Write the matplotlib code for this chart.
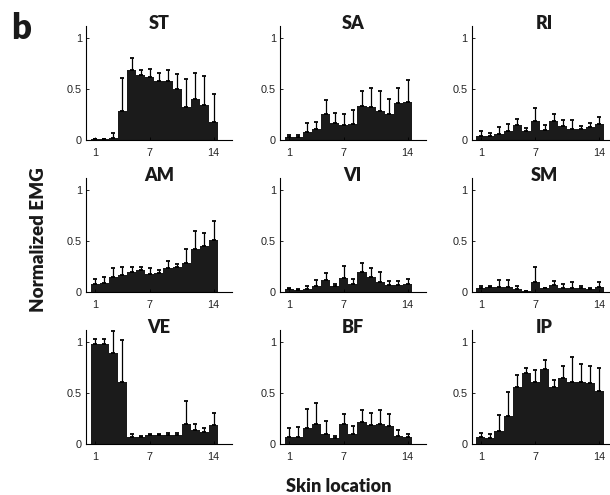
import numpy as np
import matplotlib
matplotlib.use("Agg")
import matplotlib.pyplot as plt

# skin locations along the thigh
locations = np.arange(1, 15)

# mean normalized EMG and SD, one pair per muscle
st_mean = [0.005, 0.005, 0.02, 0.28, 0.69, 0.64, 0.62, 0.575, 0.58, 0.50, 0.32, 0.405, 0.34, 0.175]
st_sd = [0.005, 0.005, 0.05, 0.33, 0.11, 0.05, 0.08, 0.085, 0.11, 0.15, 0.275, 0.255, 0.29, 0.275]

sa_mean = [0.03, 0.03, 0.075, 0.105, 0.25, 0.165, 0.145, 0.155, 0.335, 0.325, 0.28, 0.25, 0.36, 0.37]
sa_sd = [0.02, 0.02, 0.09, 0.075, 0.14, 0.095, 0.105, 0.135, 0.145, 0.18, 0.20, 0.15, 0.15, 0.22]

ri_mean = [0.04, 0.035, 0.06, 0.09, 0.145, 0.09, 0.19, 0.10, 0.19, 0.135, 0.105, 0.105, 0.125, 0.155]
ri_sd = [0.05, 0.03, 0.07, 0.065, 0.065, 0.025, 0.125, 0.045, 0.06, 0.06, 0.095, 0.035, 0.045, 0.075]

am_mean = [0.08, 0.09, 0.15, 0.165, 0.20, 0.22, 0.18, 0.185, 0.235, 0.245, 0.29, 0.42, 0.455, 0.515]
am_sd = [0.055, 0.06, 0.085, 0.085, 0.05, 0.03, 0.055, 0.03, 0.075, 0.035, 0.13, 0.185, 0.125, 0.185]

vi_mean = [0.03, 0.025, 0.035, 0.065, 0.12, 0.06, 0.145, 0.08, 0.20, 0.15, 0.105, 0.075, 0.075, 0.085]
vi_sd = [0.015, 0.01, 0.03, 0.055, 0.065, 0.02, 0.115, 0.055, 0.09, 0.085, 0.095, 0.035, 0.035, 0.05]

sm_mean = [0.045, 0.05, 0.05, 0.055, 0.03, 0.01, 0.10, 0.04, 0.07, 0.045, 0.045, 0.04, 0.03, 0.05]
sm_sd = [0.02, 0.01, 0.075, 0.07, 0.035, 0.0, 0.15, 0.0, 0.04, 0.04, 0.055, 0.025, 0.01, 0.05]

ve_mean = [0.98, 0.98, 0.89, 0.61, 0.075, 0.07, 0.095, 0.09, 0.095, 0.095, 0.195, 0.14, 0.125, 0.19]
ve_sd = [0.05, 0.05, 0.225, 0.41, 0.03, 0.015, 0.01, 0.01, 0.02, 0.015, 0.225, 0.055, 0.035, 0.12]

bf_mean = [0.07, 0.07, 0.155, 0.195, 0.105, 0.065, 0.20, 0.10, 0.22, 0.19, 0.195, 0.18, 0.08, 0.07]
bf_sd = [0.09, 0.095, 0.195, 0.205, 0.125, 0.015, 0.095, 0.08, 0.12, 0.12, 0.145, 0.115, 0.065, 0.03]

ip_mean = [0.07, 0.06, 0.13, 0.28, 0.56, 0.70, 0.61, 0.74, 0.56, 0.65, 0.61, 0.61, 0.605, 0.525]
ip_sd = [0.045, 0.04, 0.155, 0.23, 0.115, 0.05, 0.12, 0.09, 0.075, 0.115, 0.25, 0.18, 0.16, 0.225]

panels = [("ST", st_mean, st_sd), ("SA", sa_mean, sa_sd), ("RI", ri_mean, ri_sd),
          ("AM", am_mean, am_sd), ("VI", vi_mean, vi_sd), ("SM", sm_mean, sm_sd),
          ("VE", ve_mean, ve_sd), ("BF", bf_mean, bf_sd), ("IP", ip_mean, ip_sd)]

title_font = "Lato"
tick_font = "Liberation Sans"
bar_color = "#1b1b1b"

fig = plt.figure(figsize=(6.1, 4.95), dpi=100)

lefts = [0.141, 0.459, 0.7733]
bottoms = [0.7172, 0.4095, 0.1024]
w, h = 0.2389, 0.2309

for k, (name, mean, sd) in enumerate(panels):
    r, c = divmod(k, 3)
    ax = fig.add_axes([lefts[c], bottoms[r], w, h])
    ax.bar(locations, mean, width=1.0, color=bar_color, edgecolor="none")
    lower = np.zeros(len(sd))
    ax.errorbar(locations, mean, yerr=[lower, sd], fmt="none", ecolor="k",
                elinewidth=0.9, capsize=1.6, capthick=1.3, clip_on=False)
    ax.set_xlim(0, 16)
    ax.set_ylim(0, 1.12)
    ax.set_xticks([1, 7, 14])
    ax.set_xticklabels(["1", "7", "14"])
    ax.set_yticks([0, 0.5, 1])
    ax.set_yticklabels(["0", "0.5", "1"])
    for s in ["top", "right"]:
        ax.spines[s].set_visible(False)
    for s in ["left", "bottom"]:
        ax.spines[s].set_linewidth(0.8)
    ax.tick_params(axis="x", direction="in", length=2, width=0.6, pad=5.5)
    ax.tick_params(axis="y", direction="in", length=2, width=0.6, pad=3)
    for lab in ax.get_xticklabels() + ax.get_yticklabels():
        lab.set_fontfamily(tick_font)
        lab.set_fontsize(7.8)
        lab.set_color("#222222")
    ax.text(0.5, 0.97, name, transform=ax.transAxes, ha="center", va="baseline",
            fontsize=13, fontweight="heavy", family=title_font, color="#1a1a1a")

fig.text(0.019, 0.9206, "b", fontsize=25, fontweight="heavy", family=title_font,
         ha="left", va="baseline", color="#1a1a1a")
fig.text(0.063, 0.515, "Normalized EMG", rotation=90, fontsize=13.5, fontweight="heavy",
         family=title_font, ha="center", va="center", color="#1a1a1a")
fig.text(0.556, 0.006, "Skin location", fontsize=13, fontweight="heavy",
         family=title_font, ha="center", va="baseline", color="#1a1a1a")

fig.savefig("out.png", dpi=100)
